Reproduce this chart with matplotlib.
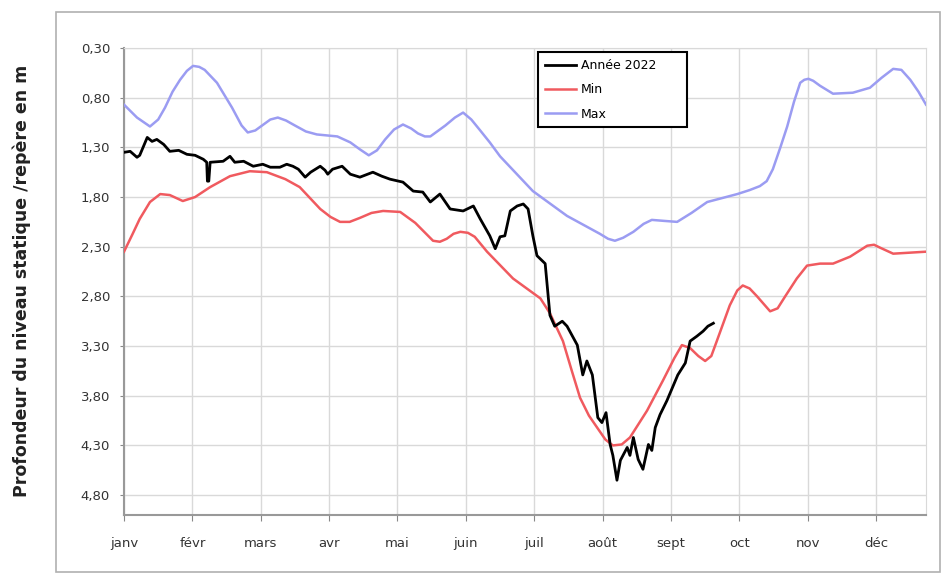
import numpy as np
import matplotlib
matplotlib.use('Agg')
import matplotlib.pyplot as plt
from matplotlib.patches import Rectangle

# positions en mois (0 = 1er janvier), profondeurs en m
mois = ['janv', 'févr', 'mars', 'avr', 'mai', 'juin', 'juil', 'août', 'sept', 'oct', 'nov', 'déc']

x_max = [0.00, 0.19, 0.38, 0.50, 0.60, 0.71, 0.82, 0.92, 1.01, 1.10, 1.18, 1.36, 1.58, 1.72,
         1.81, 1.92, 2.02, 2.14, 2.25, 2.37, 2.50, 2.66, 2.82, 3.12, 3.31, 3.45, 3.58, 3.70,
         3.82, 3.95, 4.08, 4.20, 4.30, 4.40, 4.48, 4.60, 4.70, 4.84, 4.96, 5.08, 5.21, 5.35,
         5.50, 5.98, 6.48, 6.96, 7.08, 7.18, 7.30, 7.45, 7.60, 7.72, 7.90, 8.09, 8.30, 8.53,
         8.75, 8.97, 9.15, 9.30, 9.40, 9.49, 9.60, 9.70, 9.80, 9.89, 9.95, 10.01, 10.08, 10.18,
         10.37, 10.66, 10.91, 11.08, 11.25, 11.37, 11.50, 11.62, 11.73]
v_max = [0.87, 1.00, 1.09, 1.02, 0.90, 0.74, 0.62, 0.53, 0.48, 0.49, 0.52, 0.65, 0.90, 1.08,
         1.15, 1.13, 1.08, 1.02, 1.00, 1.03, 1.08, 1.14, 1.17, 1.19, 1.25, 1.32, 1.38, 1.33,
         1.22, 1.12, 1.07, 1.11, 1.16, 1.19, 1.19, 1.13, 1.08, 1.00, 0.95, 1.02, 1.13, 1.25,
         1.39, 1.74, 1.99, 2.17, 2.22, 2.24, 2.21, 2.15, 2.07, 2.03, 2.04, 2.05, 1.96, 1.85,
         1.81, 1.77, 1.73, 1.69, 1.64, 1.52, 1.30, 1.09, 0.84, 0.65, 0.62, 0.61, 0.63, 0.68,
         0.76, 0.75, 0.70, 0.60, 0.51, 0.52, 0.62, 0.74, 0.87]

x_min = [0.00, 0.12, 0.23, 0.38, 0.53, 0.67, 0.86, 1.04, 1.26, 1.55, 1.84, 2.09, 2.36, 2.57,
         2.87, 3.02, 3.16, 3.30, 3.45, 3.62, 3.79, 4.04, 4.26, 4.52, 4.62, 4.72, 4.82, 4.92,
         5.03, 5.13, 5.31, 5.69, 6.09, 6.23, 6.42, 6.55, 6.67, 6.80, 6.92, 7.04, 7.15, 7.28,
         7.40, 7.65, 7.88, 8.05, 8.16, 8.28, 8.40, 8.50, 8.59, 8.67, 8.86, 8.97, 9.05, 9.15,
         9.26, 9.45, 9.56, 9.67, 9.84, 9.99, 10.18, 10.37, 10.62, 10.87, 10.97, 11.06, 11.25,
         11.73]
v_min = [2.35, 2.18, 2.02, 1.85, 1.77, 1.78, 1.84, 1.80, 1.70, 1.59, 1.54, 1.55, 1.62, 1.70,
         1.92, 2.00, 2.05, 2.05, 2.01, 1.96, 1.94, 1.95, 2.06, 2.24, 2.25, 2.22, 2.17, 2.15,
         2.16, 2.20, 2.35, 2.62, 2.82, 2.97, 3.25, 3.55, 3.82, 4.00, 4.12, 4.24, 4.30, 4.29,
         4.22, 3.95, 3.65, 3.42, 3.29, 3.32, 3.40, 3.45, 3.40, 3.25, 2.89, 2.74, 2.69, 2.72,
         2.80, 2.95, 2.92, 2.80, 2.62, 2.49, 2.47, 2.47, 2.40, 2.29, 2.28, 2.31, 2.37, 2.35]

x_2022 = [0.00, 0.09, 0.19, 0.23, 0.34, 0.41, 0.48, 0.58, 0.67, 0.80, 0.92, 1.04, 1.16, 1.21,
          1.22, 1.24, 1.26, 1.45, 1.55, 1.62, 1.75, 1.89, 2.03, 2.14, 2.28, 2.38, 2.47, 2.55,
          2.65, 2.73, 2.87, 2.94, 2.98, 3.05, 3.19, 3.31, 3.45, 3.64, 3.77, 3.89, 4.08, 4.23,
          4.37, 4.48, 4.62, 4.77, 4.96, 5.11, 5.21, 5.35, 5.43, 5.50, 5.57, 5.65, 5.75, 5.84,
          5.91, 5.98, 6.04, 6.16, 6.23, 6.30, 6.41, 6.48, 6.63, 6.71, 6.77, 6.85, 6.93, 6.99,
          7.05, 7.11, 7.15, 7.21, 7.26, 7.36, 7.40, 7.45, 7.52, 7.59, 7.67, 7.72, 7.77, 7.84,
          7.94, 8.02, 8.10, 8.21, 8.28, 8.38, 8.47, 8.54, 8.62]
v_2022 = [1.35, 1.34, 1.40, 1.38, 1.20, 1.24, 1.22, 1.27, 1.34, 1.33, 1.37, 1.38, 1.42, 1.45,
          1.64, 1.64, 1.45, 1.44, 1.39, 1.45, 1.44, 1.49, 1.47, 1.50, 1.50, 1.47, 1.49, 1.52,
          1.60, 1.55, 1.49, 1.53, 1.57, 1.52, 1.49, 1.57, 1.60, 1.55, 1.59, 1.62, 1.65, 1.74,
          1.75, 1.85, 1.77, 1.92, 1.94, 1.89, 2.02, 2.19, 2.32, 2.20, 2.19, 1.94, 1.89, 1.87,
          1.92, 2.19, 2.39, 2.47, 2.99, 3.10, 3.05, 3.10, 3.29, 3.59, 3.45, 3.59, 4.02, 4.07,
          3.97, 4.29, 4.40, 4.65, 4.45, 4.32, 4.40, 4.22, 4.44, 4.54, 4.29, 4.35, 4.12, 3.99,
          3.85, 3.72, 3.59, 3.47, 3.25, 3.20, 3.15, 3.10, 3.07]

y_ticks = [0.30, 0.80, 1.30, 1.80, 2.30, 2.80, 3.30, 3.80, 4.30, 4.80]

fig = plt.figure(figsize=(9.42, 5.75), dpi=100)
ax = fig.add_axes([124/942, 1 - 515/575, 802/942, 467/575])

# cadre du graphique
fig.patches.append(Rectangle((56/942, 3/575), 884/942, 560/575, transform=fig.transFigure,
                             fill=False, edgecolor='#b0b0b0', linewidth=1.2))

ax.plot(x_2022, v_2022, color='black', lw=2, label='Année 2022', zorder=4)
ax.plot(x_min, v_min, color='#f05a5f', lw=1.8, label='Min', zorder=3)
ax.plot(x_max, v_max, color='#9b9cf2', lw=1.8, label='Max', zorder=3)

ax.set_xlim(0, 11.73)
ax.set_ylim(5.00, 0.30)
ax.set_yticks(y_ticks)
ax.set_yticklabels([f'{v:.2f}'.replace('.', ',') for v in y_ticks])
ax.set_xticks(range(12))
ax.set_xticklabels(mois)
ax.tick_params(axis='x', length=4, pad=12, labelsize=9.5, color='#888888', labelcolor='#333333')
ax.tick_params(axis='y', length=3, pad=7, labelsize=9.5, color='#888888', labelcolor='#333333')

ax.grid(True, color='#d9d9d9', linewidth=1)
ax.set_axisbelow(True)
for s in ['top', 'right']:
    ax.spines[s].set_color('#d9d9d9')
for s in ['left', 'bottom']:
    ax.spines[s].set_color('#999999')
    ax.spines[s].set_linewidth(1.5)

leg = ax.legend(loc='upper left', bbox_to_anchor=(0.516, 0.833, 0.186, 0.158), mode='expand',
                borderaxespad=0, fontsize=9, fancybox=False, framealpha=1,
                labelspacing=0.9, borderpad=0.55, handlelength=2.5, handletextpad=0.4)
leg.get_frame().set_edgecolor('black')
leg.get_frame().set_linewidth(1.5)

fig.text(22/942, 1 - 281/575, 'Profondeur du niveau statique /repère en m', rotation=90,
         ha='center', va='center', fontsize=12.5, fontweight='bold', color='#222222')

fig.savefig('out.png', dpi=100)
